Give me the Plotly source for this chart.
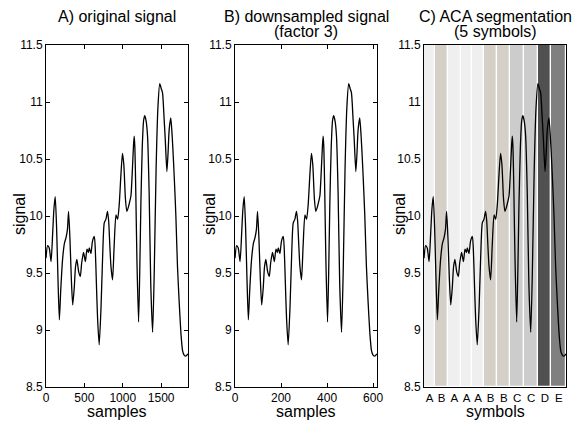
import plotly.graph_objects as go

# ---------------- data ----------------
FACTOR = 3  # downsampling factor

# downsampled sample index and signal value
ds_samples = [0, 7, 14, 22, 29, 34, 40, 46, 52, 58, 64, 72, 80, 87, 93, 98, 104, 110,
              116, 123, 128, 134, 142, 149, 155, 163, 171, 178, 184, 188, 195, 202, 210,
              214, 219, 224, 231, 239, 246, 253, 260, 267, 272, 277, 282, 289, 296, 304,
              311, 318, 325, 332, 338, 345, 351, 358, 364, 369, 375, 380, 383, 386, 390,
              395, 402, 407, 412, 418, 424, 429, 435, 441, 448, 455, 463, 470, 478, 486,
              494, 500, 506, 513, 518, 525, 530, 535, 542, 548, 554, 560, 564, 571, 578,
              586, 593, 600, 607, 612, 616]
signal = [9.63, 9.74, 9.72, 9.60, 9.85, 10.05, 10.17, 9.90, 9.45, 9.09, 9.35, 9.62, 9.76,
          9.81, 9.88, 10.04, 9.80, 9.45, 9.22, 9.38, 9.55, 9.62, 9.51, 9.47, 9.59, 9.68,
          9.60, 9.71, 9.68, 9.72, 9.67, 9.78, 9.82, 9.71, 9.40, 9.10, 8.87, 9.20, 9.65,
          9.94, 9.97, 10.04, 9.96, 9.75, 9.56, 9.44, 9.74, 10.01, 9.97, 10.10, 10.35,
          10.55, 10.45, 10.15, 10.04, 10.08, 10.13, 10.18, 10.40, 10.62, 10.70, 10.60,
          10.20, 9.60, 9.07, 9.50, 10.10, 10.60, 10.84, 10.88, 10.83, 10.70, 10.20, 9.40,
          8.98, 9.50, 10.40, 10.95, 11.16, 11.12, 11.08, 10.85, 10.67, 10.39, 10.55,
          10.76, 10.86, 10.70, 10.47, 10.20, 10.00, 9.56, 9.26, 8.97, 8.82, 8.78, 8.77,
          8.78, 8.79]

# ACA segmentation (in downsampled samples)
seg_edges = [0, 48, 104, 160, 210, 260, 317, 375, 434, 495, 553, 616]
seg_symbols = ["A", "B", "A", "A", "A", "B", "B", "C", "C", "D", "E"]
symbol_colors = {"A": "#efefef", "B": "#d4d0c8", "C": "#cccccc", "D": "#505050", "E": "#808080"}

y_ticks = [8.5, 9, 9.5, 10, 10.5, 11, 11.5]
y_ticktext = ["8.5", "9", "9.5", "10", "10.5", "11", "11.5"]
a_ticks = [0, 500, 1000, 1500]
b_ticks = [0, 200, 400, 600]

orig_samples = [s * FACTOR for s in ds_samples]
seg_centers = [(a + b) / 2 for a, b in zip(seg_edges[:-1], seg_edges[1:])]
seg_widths = [b - a for a, b in zip(seg_edges[:-1], seg_edges[1:])]

# ---------------- figure ----------------
W, H = 581, 421
FONT = "Liberation Sans, Arial, sans-serif"
line_style = dict(color="black", width=1.3, shape="spline", smoothing=0.6)

fig = go.Figure()
fig.add_trace(go.Scatter(x=orig_samples, y=signal, mode="lines", line=line_style,
                         xaxis="x", yaxis="y", showlegend=False, hoverinfo="skip"))
fig.add_trace(go.Scatter(x=ds_samples, y=signal, mode="lines", line=line_style,
                         xaxis="x2", yaxis="y2", showlegend=False, hoverinfo="skip"))
fig.add_trace(go.Bar(x=seg_centers, y=[3] * len(seg_centers), base=8.5, width=seg_widths,
                     marker=dict(color=[symbol_colors[s] for s in seg_symbols],
                                 line=dict(color="white", width=1.2)),
                     xaxis="x3", yaxis="y3", showlegend=False, hoverinfo="skip"))
fig.add_trace(go.Scatter(x=ds_samples, y=signal, mode="lines", line=line_style,
                         xaxis="x3", yaxis="y3", showlegend=False, hoverinfo="skip"))

def px_x(p):
    return p / W

def px_y(p):
    return (H - p) / H

ydom = [px_y(387), px_y(45)]
doms = [[px_x(46), px_x(188)], [px_x(235), px_x(377)], [px_x(424), px_x(566)]]

ax_common = dict(showline=True, linecolor="black", linewidth=1, showgrid=False,
                 zeroline=False, tickcolor="black", ticklen=4, automargin=False,
                 tickfont=dict(size=12, color="black", family=FONT))

fig.update_layout(
    width=W, height=H, margin=dict(l=0, r=0, t=0, b=0),
    paper_bgcolor="white", plot_bgcolor="white",
    font=dict(family=FONT, color="black"),
    barmode="overlay", bargap=0,
    xaxis=dict(ax_common, domain=doms[0], range=[0, 1850], tickvals=a_ticks,
               ticks="inside", mirror="ticks", anchor="y"),
    yaxis=dict(ax_common, domain=ydom, range=[8.5, 11.5], tickvals=y_ticks,
               ticktext=y_ticktext, ticks="inside", mirror="ticks", anchor="x"),
    xaxis2=dict(ax_common, domain=doms[1], range=[0, 617], tickvals=b_ticks,
                ticks="inside", mirror="ticks", anchor="y2"),
    yaxis2=dict(ax_common, domain=ydom, range=[8.5, 11.5], tickvals=y_ticks,
                ticktext=y_ticktext, ticks="inside", mirror="ticks", anchor="x2"),
    xaxis3=dict(ax_common, domain=doms[2], range=[0, 616], tickvals=seg_centers,
                ticktext=seg_symbols, ticks="", mirror=True, anchor="y3",
                tickfont=dict(size=11.5, color="black", family=FONT)),
    yaxis3=dict(ax_common, domain=ydom, range=[8.5, 11.5], tickvals=y_ticks,
                ticktext=y_ticktext, ticks="", mirror=True, anchor="x3"),
)

ann = []
def text(t, x, y, size=16, angle=0):
    ann.append(dict(text=t, x=px_x(x), y=px_y(y), xref="paper", yref="paper",
                    showarrow=False, xanchor="center", yanchor="middle",
                    textangle=angle, font=dict(size=size, color="black", family=FONT)))

centers = [117, 306, 495]
text("A) original signal", centers[0], 16)
text("B) downsampled signal", centers[1], 16)
text("(factor 3)", centers[1], 31)
text("C) ACA segmentation", centers[2], 16)
text("(5 symbols)", centers[2], 31)
text("samples", centers[0], 411)
text("samples", centers[1], 411)
text("symbols", centers[2], 411)
for xx in [19, 209, 399]:
    text("signal", xx, 214, angle=-90)
fig.update_layout(annotations=ann)

fig.write_html("out.html", config={"displayModeBar": False},
               post_script="document.body.style.margin='0';")
